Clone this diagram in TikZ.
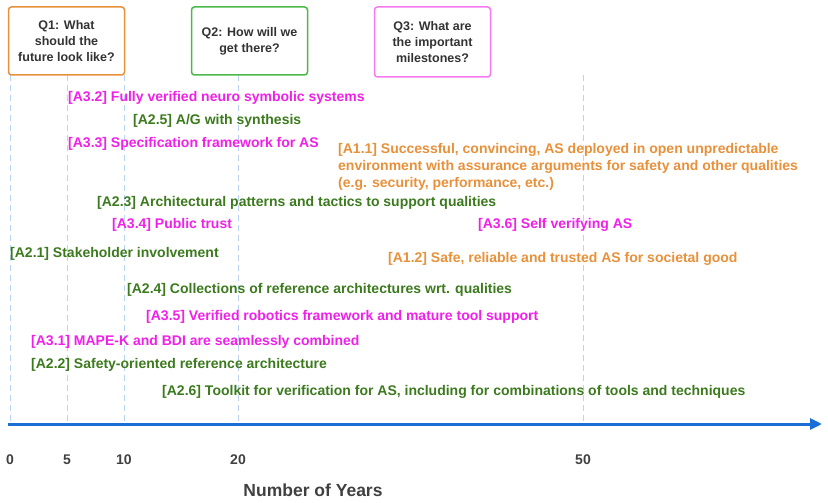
\documentclass[tikz,border=0pt]{standalone}
\usepackage{fontspec}
\setmainfont{Liberation Sans}
\usetikzlibrary{arrows.meta}
\definecolor{mag}{HTML}{F020E8}
\definecolor{grn}{HTML}{3C7A1E}
\definecolor{org}{HTML}{E8903A}
\definecolor{axb}{HTML}{1A6FD6}
\definecolor{dsh}{HTML}{B9D4F4}
\begin{document}
\begin{tikzpicture}[x=1pt,y=-1pt,
  lab/.style={anchor=west,font=\bfseries\fontsize{14}{16}\selectfont,inner sep=0pt},
  qbox/.style={draw,line width=1.5pt,rounded corners=3pt,align=center,font=\bfseries\fontsize{12.5}{16}\selectfont,text=black!80,minimum width=116pt,minimum height=68pt},
  tick/.style={font=\bfseries\fontsize{14}{16}\selectfont,text=black!75}]
\useasboundingbox (0,0) rectangle (828,503);
\foreach \x in {10,67,124,238,583}
  \draw[dsh,dash pattern=on 6pt off 4pt] (\x,75) -- (\x,424);
\coordinate (s) at (8,424);
\coordinate (e) at (822,424);
\draw[axb,line width=3pt,-{Triangle[length=12pt,width=11pt]}] (s) -- (e);
\node[qbox,draw=org] (q1) at (66.5,41) {Q1: What\\should the\\future look like?};
\node[qbox,draw=green!60!black!70!white] (q2) at (249.5,41) {Q2: How will we\\get there?};
\node[qbox,draw=mag!60,minimum height=70pt] (q3) at (432.5,42) {Q3: What are\\the important\\milestones?};
\foreach \x/\t in {10/0,67/5,124/10,238/20,583/50}
  \node[tick] (t\t) at (\x,460) {\t};
\node[font=\bfseries\fontsize{17.5}{20}\selectfont,text=black!75] (ny) at (313,490) {Number of Years};
\node[lab,text=mag] (a32) at (68,98) {[A3.2] Fully verified neuro symbolic systems};
\node[lab,text=grn] (a25) at (133,121) {[A2.5] A/G with synthesis};
\node[lab,text=mag] (a33) at (68,144) {[A3.3] Specification framework for AS};
\node[lab,text=org,align=left,font=\bfseries\fontsize{14}{17}\selectfont] (a11) at (338,167) {[A1.1] Successful, convincing, AS deployed in open unpredictable\\environment with assurance arguments for safety and other qualities\\(e.g. security, performance, etc.)};
\node[lab,text=grn] (a23) at (97,203) {[A2.3] Architectural patterns and tactics to support qualities};
\node[lab,text=mag] (a34) at (112,225) {[A3.4] Public trust};
\node[lab,text=mag] (a36) at (478,225) {[A3.6] Self verifying AS};
\node[lab,text=grn] (a21) at (10,254) {[A2.1] Stakeholder involvement};
\node[lab,text=org] (a12) at (388,259) {[A1.2] Safe, reliable and trusted AS for societal good};
\node[lab,text=grn] (a24) at (127,290) {[A2.4] Collections of reference architectures wrt. qualities};
\node[lab,text=mag] (a35) at (146,317) {[A3.5] Verified robotics framework and mature tool support};
\node[lab,text=mag] (a31) at (31,342) {[A3.1] MAPE-K and BDI are seamlessly combined};
\node[lab,text=grn] (a22) at (31,365) {[A2.2] Safety-oriented reference architecture};
\node[lab,text=grn] (a26) at (162,392) {[A2.6] Toolkit for verification for AS, including for combinations of tools and techniques};
\end{tikzpicture}
\end{document}
